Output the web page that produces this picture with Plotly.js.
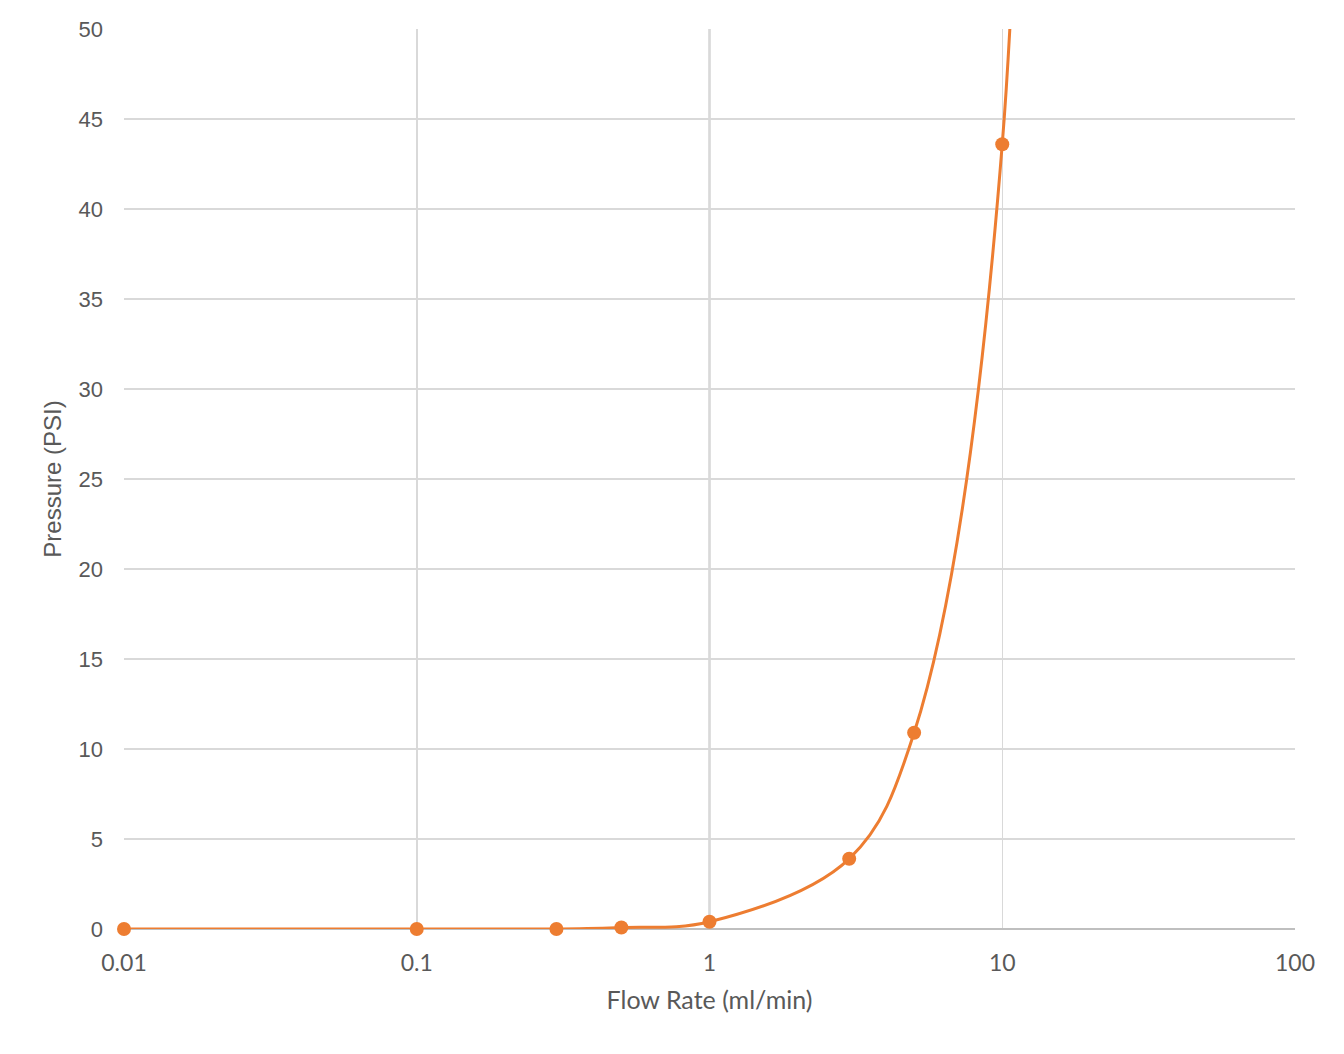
<!DOCTYPE html>
<html>
<head>
<meta charset="utf-8">
<script src="https://cdn.plot.ly/plotly-3.0.1.min.js"></script>
<style>
  html, body { margin: 0; padding: 0; background: #fff; }
  #chart { width: 1344px; height: 1054px; }
</style>
</head>
<body>
<div id="chart"></div>
<script>
// Measured flow rate (ml/min) vs pressure (PSI)
const flowRate = [0.01, 0.1, 0.3, 0.5, 1, 3, 5, 10, 12];
const pressure = [0, 0, 0, 0.08, 0.4, 3.9, 10.9, 43.6, 170];
// the last point sits far above the axis range; only the curve runs to it
const visibleCount = 8;

const xTickVals = [0.01, 0.1, 1, 10, 100];
const xTickText = ['0.01', '0.1', '1', '10', '100'];

const orange = '#ED7D31';
const gridColor = '#d9d9d9';
const axisColor = '#bfbfbf';
const textColor = '#595959';

const traces = [
    { // smoothed curve
        x: flowRate, y: pressure,
        type: 'scatter', mode: 'lines',
        line: { color: orange, width: 3, shape: 'spline', smoothing: 1 },
        hoverinfo: 'skip'
    },
    { // markers
        x: flowRate.slice(0, visibleCount), y: pressure.slice(0, visibleCount),
        type: 'scatter', mode: 'markers',
        marker: { color: orange, size: 14 },
        cliponaxis: false
    }
];

const layout = {
    width: 1344,
    height: 1054,
    paper_bgcolor: '#fff',
    plot_bgcolor: '#fff',
    showlegend: false,
    margin: { l: 124, r: 49, t: 29, b: 125 },
    font: { family: 'Liberation Sans, Arial, sans-serif', color: textColor, size: 22 },
    xaxis: {
        type: 'log',
        range: [-2, 2],
        tickvals: xTickVals,
        ticktext: xTickText,
        showgrid: true,
        gridcolor: gridColor,
        gridwidth: 1.5,
        zeroline: false,
        showline: false,
        ticks: '',
        ticklabelstandoff: 18,
        tickfont: { family: 'Lato, sans-serif', size: 23, color: textColor },
        title: { text: 'Flow Rate (ml/min)', font: { family: 'Lato, sans-serif', size: 25, color: textColor }, standoff: 16 },
        fixedrange: true
    },
    yaxis: {
        range: [0, 50],
        dtick: 5,
        showgrid: true,
        gridcolor: gridColor,
        gridwidth: 1.5,
        zeroline: true,
        zerolinecolor: axisColor,
        zerolinewidth: 2,
        showline: false,
        ticks: '',
        ticklabelstandoff: 20,
        tickfont: { size: 22, color: textColor },
        title: { text: 'Pressure (PSI)', font: { size: 24, color: textColor }, standoff: 10 },
        fixedrange: true
    },
    shapes: [{ // vertical axis line crossing at 1
        type: 'line', xref: 'x', yref: 'paper',
        x0: 1, x1: 1, y0: 0, y1: 1,
        line: { color: axisColor, width: 2 },
        layer: 'between'
    }]
};

Plotly.newPlot('chart', traces, layout, { displayModeBar: false, staticPlot: true });
</script>
</body>
</html>
